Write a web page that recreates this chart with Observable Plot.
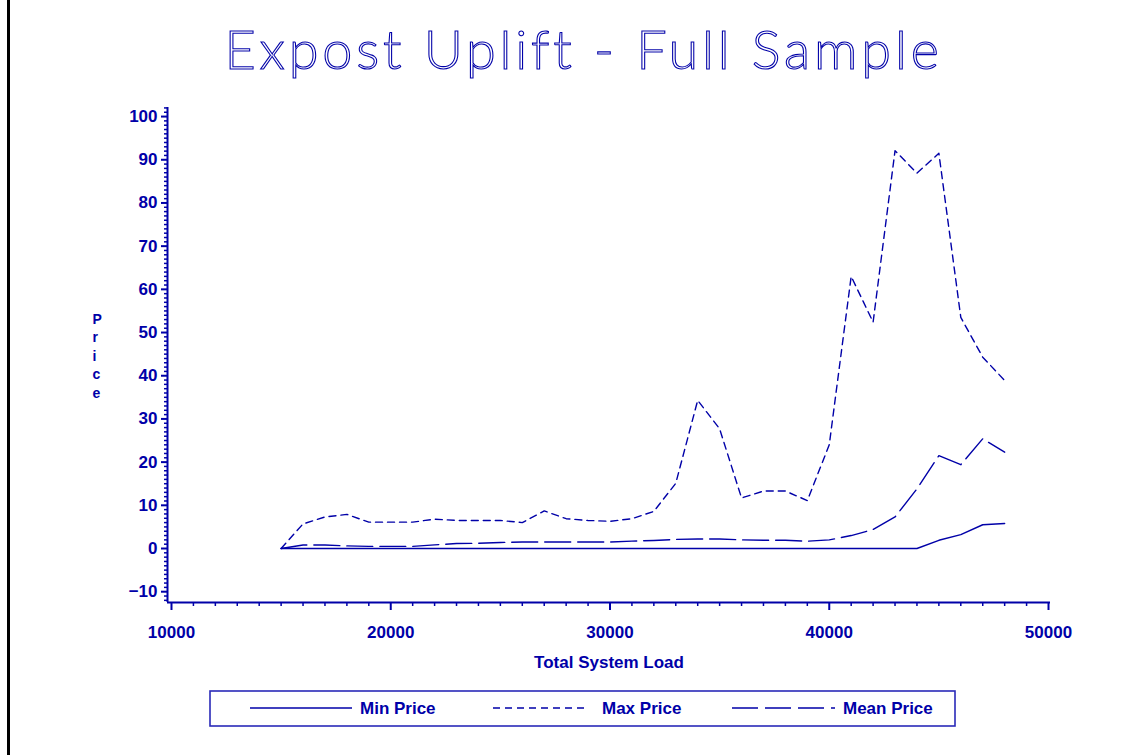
<!DOCTYPE html>
<html>
<head>
<meta charset="utf-8">
<script src="https://cdn.jsdelivr.net/npm/d3@7"></script>
<script src="https://cdn.jsdelivr.net/npm/@observablehq/plot@0.6"></script>
<style>
  html, body { margin: 0; padding: 0; background: #ffffff; }
  #page { position: relative; width: 1147px; height: 755px; overflow: hidden; background: #fff; }
  #border { position: absolute; left: 7px; top: 0; width: 3px; height: 755px; background: #000; }
  #title { position: absolute; left: 10px; top: 0; width: 1147px; height: 100px; text-align: center;
           font-family: Lato, "DejaVu Sans", sans-serif; font-weight: 300; font-size: 54px; line-height: 98px;
           color: transparent; -webkit-text-stroke: 1.1px #0000a8; letter-spacing: 3.8px; }
  #chart { position: absolute; left: 0; top: 100px; }
  #legend { position: absolute; left: 209px; top: 690px; }
</style>
</head>
<body>
<div id="page">
  <div id="border"></div>
  <div id="title">Expost Uplift - Full Sample</div>
  <div id="chart"></div>
  <svg id="legend" width="748" height="38"></svg>
</div>
<script>
const BLUE = "#0000a8";
const FONT = "'Liberation Sans', Arial, sans-serif";

// Data
const loads = [15000,16000,17000,18000,19000,20000,21000,22000,23000,24000,25000,26000,27000,28000,29000,30000,31000,32000,33000,34000,35000,36000,37000,38000,39000,40000,41000,42000,43000,44000,45000,46000,47000,48000];
const minPrice = [0,0,0,0,0,0,0,0,0,0,0,0,0,0,0,0,0,0,0,0,0,0,0,0,0,0,0,0,0,0,1.9,3.2,5.5,5.8];
const maxPrice = [0,5.7,7.3,7.9,6.1,6.1,6.1,6.8,6.5,6.5,6.5,6.0,8.7,6.9,6.5,6.3,6.9,8.6,15.1,34.3,27.7,11.7,13.3,13.3,11.1,24.0,63.0,52.4,92.1,86.9,91.5,53.5,44.3,38.9];
const meanPrice = [0,0.8,0.8,0.6,0.5,0.5,0.5,0.85,1.15,1.2,1.4,1.5,1.5,1.5,1.5,1.5,1.7,1.85,2.1,2.2,2.2,2.0,1.9,1.9,1.7,2.0,3.0,4.4,7.3,13.8,21.5,19.4,25.4,22.3];
const seriesNames = ["Min Price", "Max Price", "Mean Price"];
const xMajorTicks = [10000, 20000, 30000, 40000, 50000];
const yMajorTicks = [-10, 0, 10, 20, 30, 40, 50, 60, 70, 80, 90, 100];
const xDomain = [9818, 50091];
const yDomain = [-12.5, 102.1];

const dashes = {"Min Price": null, "Max Price": "7,5", "Mean Price": "26,7"};
const seriesValues = [minPrice, maxPrice, meanPrice];

const rows = [];
seriesNames.forEach((name, i) => {
  loads.forEach((x, j) => rows.push({series: name, load: x, price: seriesValues[i][j]}));
});

const xMinorTicks = d3.range(10000, 50001, 1000).filter(v => v % 10000 !== 0);
const yMinorTicks = d3.range(-12, 103, 1).filter(v => v % 10 !== 0);

const chart = Plot.plot({
  width: 1147,
  height: 580,
  marginLeft: 167,
  marginRight: 97,
  marginTop: 7,
  marginBottom: 78,
  x: {domain: xDomain},
  y: {domain: yDomain},
  style: {fontFamily: FONT, fontSize: "17px", fontWeight: "bold", color: BLUE, background: "transparent", overflow: "visible"},
  marks: [
    Plot.axisX(xMinorTicks, {tickSize: 4, tickFormat: () => "", label: null, stroke: BLUE, strokeWidth: 1.5}),
    Plot.axisX(xMajorTicks, {tickSize: 8, tickPadding: 15, tickFormat: d => String(d), label: null, stroke: BLUE, strokeWidth: 2, fill: BLUE}),
    Plot.axisY(yMinorTicks, {tickSize: 3, tickFormat: () => "", label: null, stroke: BLUE, strokeWidth: 1.5}),
    Plot.axisY(yMajorTicks, {tickSize: 6, tickPadding: 4, tickFormat: d3.format("d"), label: null, stroke: BLUE, strokeWidth: 2, fill: BLUE}),
    Plot.ruleX([xDomain[0]], {stroke: BLUE, strokeWidth: 2}),
    Plot.ruleY([yDomain[0]], {stroke: BLUE, strokeWidth: 2}),
    ...seriesNames.map(name => Plot.line(rows.filter(r => r.series === name), {
      x: "load", y: "price", stroke: BLUE, strokeWidth: 1.4,
      strokeDasharray: dashes[name]
    })),
    Plot.text(["Total System Load"], {frameAnchor: "bottom", dy: 65, fill: BLUE, fontSize: 17}),
    Plot.text(["P\nr\ni\nc\ne"], {frameAnchor: "left", dx: -75, fill: BLUE, fontSize: 14, fontWeight: "bold", lineHeight: 1.32})
  ]
});
document.getElementById("chart").appendChild(chart);

// Legend
const lg = d3.select("#legend");
lg.append("rect").attr("x", 1).attr("y", 1).attr("width", 745).attr("height", 35)
  .attr("fill", "none").attr("stroke", "#2a2ab8").attr("stroke-width", 1.6);
const legendItems = [
  {name: "Min Price", x1: 41, x2: 143, tx: 151},
  {name: "Max Price", x1: 284, x2: 378, tx: 393},
  {name: "Mean Price", x1: 523, x2: 626, tx: 634}
];
legendItems.forEach(it => {
  lg.append("line").attr("x1", it.x1).attr("x2", it.x2).attr("y1", 18).attr("y2", 18)
    .attr("stroke", BLUE).attr("stroke-width", 1.6)
    .attr("stroke-dasharray", dashes[it.name]);
  lg.append("text").attr("x", it.tx).attr("y", 18).attr("dy", "0.35em")
    .attr("fill", BLUE).attr("font-family", FONT).attr("font-weight", "bold").attr("font-size", 17)
    .text(it.name);
});
</script>
</body>
</html>
